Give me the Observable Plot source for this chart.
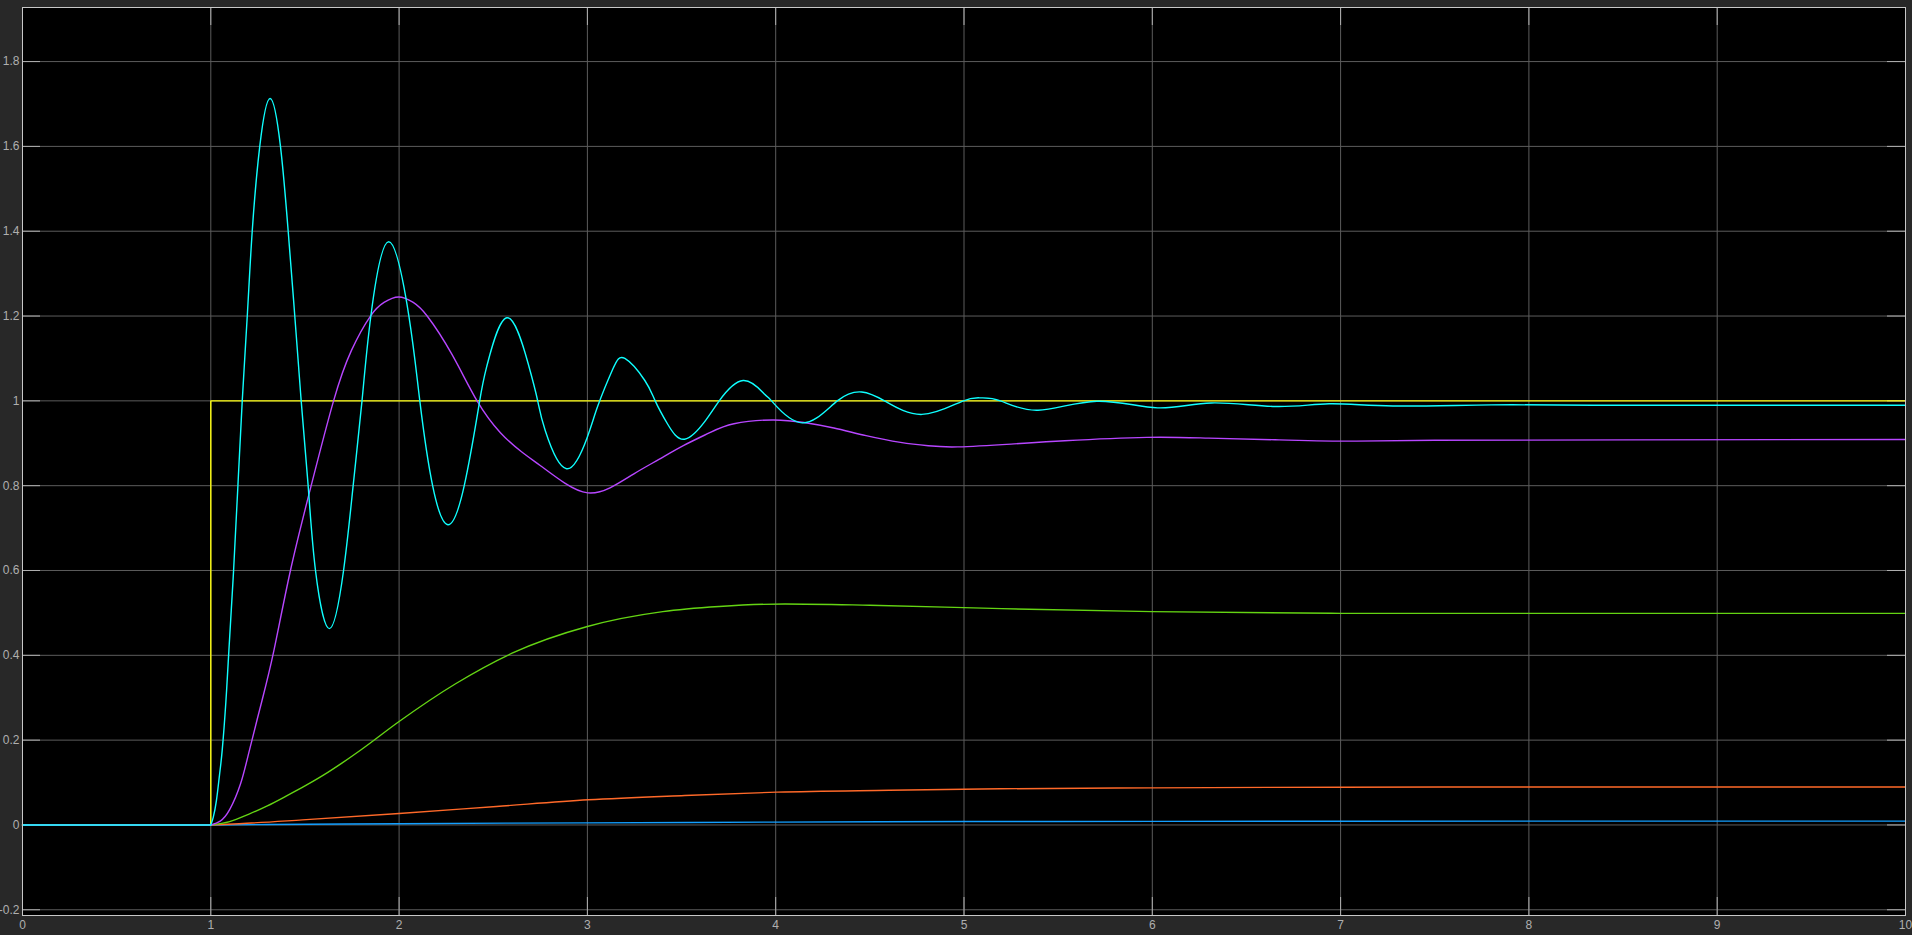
<!DOCTYPE html>
<html>
<head>
<meta charset="utf-8">
<script src="https://cdn.jsdelivr.net/npm/d3@7"></script>
<script src="https://cdn.jsdelivr.net/npm/@observablehq/plot@0.6"></script>
<style>
html, body { margin: 0; padding: 0; background: #282828; overflow: hidden; }
#chart svg { display: block; }
</style>
</head>
<body>
<div id="chart"></div>
<script>
// Tick values
const xTicks = [0, 1, 2, 3, 4, 5, 6, 7, 8, 9, 10];
const yTicks = [-0.2, 0, 0.2, 0.4, 0.6, 0.8, 1, 1.2, 1.4, 1.6, 1.8];

// Series values [time, value]
const stepInput = [[0, 0], [1, 0], [1, 1], [10, 1]];

const blueSeries = [[0, 0], [1, 0], [1.3, 0.001], [2, 0.003], [3, 0.005], [4, 0.0067], [5, 0.008], [6, 0.0085], [8, 0.009], [10, 0.009]];

const orangeSeries = [[0, 0], [1, 0], [1.15, 0.003], [1.487, 0.012], [2.0, 0.027], [2.517, 0.0436], [3.005, 0.0593], [3.517, 0.0695], [4.007, 0.0774], [4.603, 0.0818], [5.194, 0.0853], [6, 0.0875], [7, 0.089], [8, 0.0895], [10, 0.0896]];

const greenSeries = [[0, 0], [1, 0], [1.1, 0.008], [1.2, 0.025], [1.3, 0.045], [1.4, 0.068], [1.5, 0.092], [1.6, 0.118], [1.7, 0.147], [1.8, 0.178], [2.0, 0.244], [2.3, 0.333], [2.6, 0.405], [3.0, 0.468], [3.4, 0.503], [3.7, 0.515], [4.05, 0.521], [4.5, 0.518], [5.2, 0.510], [6, 0.503], [7, 0.499], [8, 0.499], [10, 0.499]];

const purpleSeries = [[0, 0], [1, 0], [1.05, 0.009], [1.1, 0.036], [1.158, 0.097], [1.205, 0.176], [1.27, 0.29], [1.335, 0.411], [1.423, 0.600], [1.533, 0.800], [1.652, 1.0], [1.747, 1.119], [1.848, 1.20], [1.92, 1.232], [1.998, 1.245], [2.075, 1.232], [2.149, 1.20], [2.28, 1.11], [2.414, 1.0], [2.538, 0.925], [2.65, 0.88], [2.751, 0.847], [2.88, 0.806], [3.002, 0.783], [3.12, 0.795], [3.247, 0.828], [3.38, 0.862], [3.512, 0.895], [3.65, 0.925], [3.778, 0.946], [3.981, 0.955], [4.15, 0.949], [4.309, 0.936], [4.48, 0.918], [4.663, 0.902], [4.81, 0.894], [4.966, 0.8915], [5.25, 0.898], [5.535, 0.906], [5.971, 0.914], [6.3, 0.912], [6.673, 0.908], [7.052, 0.905], [7.5, 0.907], [8.5, 0.908], [10, 0.909]];

const cyanSeries = [[0, 0], [1, 0], [1.013, 0.018], [1.03, 0.058], [1.046, 0.117], [1.0605, 0.176], [1.08, 0.29], [1.096, 0.411], [1.121, 0.600], [1.144, 0.800], [1.167, 1.0], [1.195, 1.21], [1.22, 1.40], [1.26, 1.60], [1.315, 1.713], [1.37, 1.60], [1.411, 1.40], [1.446, 1.20], [1.48, 1.0], [1.517, 0.80], [1.556, 0.60], [1.63, 0.463], [1.705, 0.60], [1.756, 0.80], [1.803, 1.0], [1.85, 1.20], [1.945, 1.375], [2.052, 1.20], [2.11, 1.0], [2.178, 0.80], [2.259, 0.708], [2.346, 0.80], [2.428, 1.0], [2.466, 1.082], [2.572, 1.196], [2.686, 1.087], [2.736, 1.0], [2.776, 0.93], [2.889, 0.840], [3.0, 0.915], [3.057, 0.99], [3.135, 1.075], [3.199, 1.100], [3.305, 1.048], [3.36, 1.0], [3.425, 0.946], [3.516, 0.9095], [3.628, 0.954], [3.7, 1.0], [3.827, 1.048], [3.94, 1.016], [3.978, 1.0], [4.141, 0.948], [4.327, 1.0], [4.457, 1.021], [4.578, 1.0], [4.776, 0.968], [4.99, 0.999], [5.09, 1.007], [5.194, 1.0], [5.393, 0.978], [5.706, 0.999], [6.028, 0.9835], [6.313, 0.995], [6.654, 0.9866], [6.939, 0.993], [7.278, 0.988], [7.8, 0.9905], [8.5, 0.9895], [10, 0.9895]];

const seriesList = [
  {data: stepInput, color: "#ffff11", curve: null},
  {data: blueSeries, color: "#139fff", curve: "monotone-x"},
  {data: orangeSeries, color: "#ff6929", curve: "monotone-x"},
  {data: greenSeries, color: "#64d413", curve: "monotone-x"},
  {data: purpleSeries, color: "#b746ff", curve: "natural"},
  {data: cyanSeries, color: "#0fffff", curve: "natural"}
];

const W = 1912, H = 935;
const mL = 22, mR = 7, mT = 7, mB = 20;
const innerW = W - mL - mR, innerH = H - mT - mB;
const tickLen = 18;
const fmt = d => String(+d.toFixed(1));

const lineMarks = [];
for (const s of seriesList) {
  const opts = {x: d => d[0], y: d => d[1], stroke: s.color, strokeWidth: 1.4};
  if (!s.curve) {
    lineMarks.push(Plot.line(s.data, {...opts, curve: "linear"}));
  } else {
    lineMarks.push(Plot.line(s.data.filter(d => d[0] <= 1), {...opts, curve: "linear"}));
    lineMarks.push(Plot.line(s.data.filter(d => d[0] >= 1), {...opts, curve: s.curve}));
  }
}

const chart = Plot.plot({
  width: W,
  height: H,
  marginLeft: mL,
  marginRight: mR,
  marginTop: mT,
  marginBottom: mB,
  style: {background: "#282828", color: "#afafaf", fontFamily: "Liberation Sans, Arial, sans-serif", fontSize: "12px", overflow: "hidden"},
  x: {domain: [0, 10]},
  y: {domain: [-0.2135, 1.9275]},
  marks: [
    Plot.frame({fill: "black"}),
    Plot.gridX(xTicks, {stroke: "#5c5c5c", strokeOpacity: 1}),
    Plot.gridY(yTicks, {stroke: "#5c5c5c", strokeOpacity: 1}),
    Plot.tickY(yTicks, {y: d => d, insetRight: innerW - tickLen, stroke: "#b0b0b0"}),
    Plot.tickY(yTicks, {y: d => d, insetLeft: innerW - tickLen, stroke: "#b0b0b0"}),
    Plot.tickX(xTicks, {x: d => d, insetBottom: innerH - tickLen, stroke: "#b0b0b0"}),
    Plot.tickX(xTicks, {x: d => d, insetTop: innerH - tickLen, stroke: "#b0b0b0"}),
    ...lineMarks,
    Plot.frame({stroke: "#c8c8c8"}),
    Plot.axisX(xTicks, {tickSize: 0, tickPadding: 5, tickFormat: fmt, fill: "#afafaf"}),
    Plot.axisY(yTicks, {tickSize: 0, tickPadding: 3, tickFormat: fmt, fill: "#afafaf"})
  ]
});
document.getElementById("chart").appendChild(chart);
</script>
</body>
</html>
